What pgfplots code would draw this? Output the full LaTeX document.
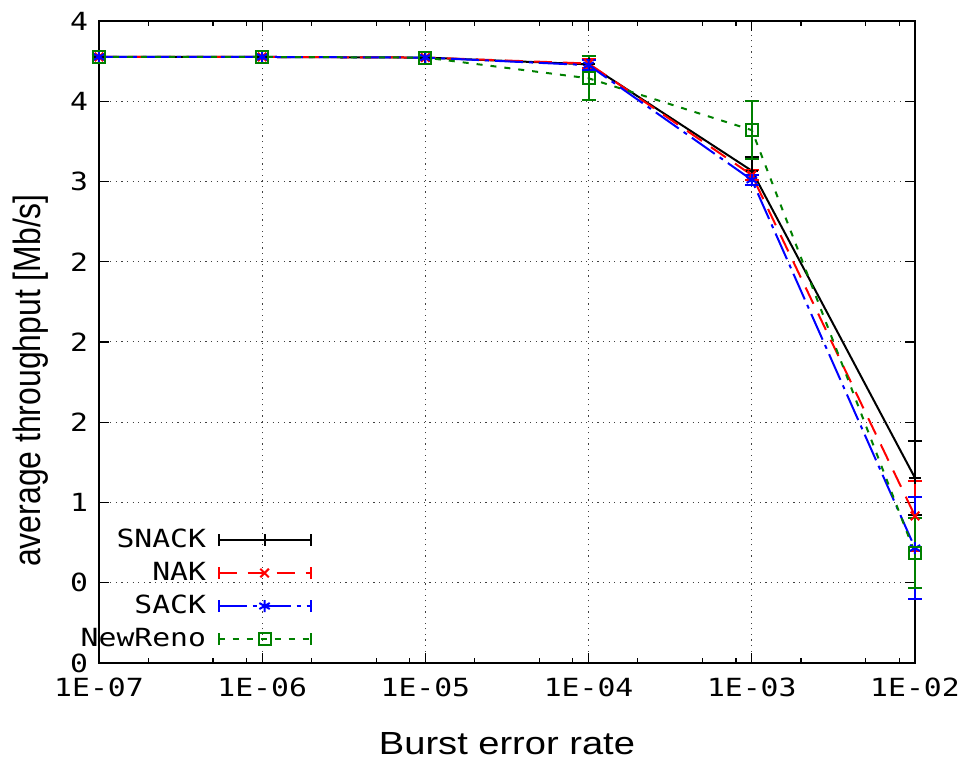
\documentclass[border=0pt]{standalone}
\usepackage{fontspec}
\setmainfont{Liberation Sans}
\newfontfamily\tickfont[FakeStretch=1.19]{DejaVu Sans Mono}
\newfontfamily\labfont[FakeStretch=1.19]{Liberation Sans}
\newfontfamily\ylabfont[FakeStretch=0.84]{Liberation Sans}
\usepackage{pgfplots}
\pgfplotsset{compat=1.18}
\definecolor{gpgreen}{RGB}{0,128,0}
\begin{document}
\begin{tikzpicture}
\begin{axis}[name=ax,
  scale only axis, width=408pt, height=321pt,
  xmode=log, xmin=1e-7, xmax=1e-2, ymin=0, ymax=4,
  xtick={1e-7,1e-6,1e-5,1e-4,1e-3,1e-2},
  xticklabels={1E-07,1E-06,1E-05,1E-04,1E-03,1E-02},
  minor xtick={2e-7,5e-7,8e-7,2e-6,5e-6,8e-6,2e-5,5e-5,8e-5,2e-4,5e-4,8e-4,2e-3,5e-3,8e-3},
  ytick={0,0.5,1,1.5,2,2.5,3,3.5,4},
  yticklabels={0,0,1,2,2,2,3,4,4},
  tick align=inside, major tick length=5pt, minor tick length=2.5pt,
  every tick/.style={black, line width=0.6pt},
  axis line style={line width=1pt},
  grid=major, grid style={black!75, line width=0.5pt, dash pattern=on 0.6pt off 2.2pt},
  tick label style={font=\tickfont\fontsize{12.5}{14}\selectfont},
  xticklabel style={yshift=-4pt},
  yticklabel style={xshift=-2pt},
  xlabel={Burst error rate},
  xlabel style={font=\labfont\fontsize{16}{19}\selectfont, at={(axis description cs:0.5,0)}, anchor=base, yshift=-46pt},
  ylabel={average throughput [Mb/s]},
  ylabel style={font=\ylabfont\fontsize{19}{22}\selectfont, at={(axis description cs:0,0.44)}, anchor=center, rotate=0, yshift=34pt},
  clip=false,
  legend plot pos=right,
  legend cell align=right,
  legend style={draw=none, fill=none, inner sep=0pt,
    font=\tickfont\fontsize{12.5}{14}\selectfont,
    at={(axis description cs:0.261,0.011)}, anchor=south east,
    nodes={text height=9pt, text depth=2pt, inner sep=2.75pt},
    column sep=3pt},
  legend image code/.code={
    \draw[mark repeat=2,mark phase=2,#1] plot coordinates {(0pt,0pt) (23pt,0pt) (46pt,0pt)};
    \draw[#1,solid] (0pt,-3pt) -- (0pt,3pt) (46pt,-3pt) -- (46pt,3pt);
  },
  error bars/y dir=both, error bars/y explicit,
  error bars/error bar style={solid, line width=1pt},
  error bars/error mark options={rotate=90, mark size=3.5pt, line width=1pt, solid},
]
\addplot[black, line width=1pt, mark=+, mark size=3pt, mark options={solid}]
  coordinates {(1e-7,3.776)+-(0,0.01) (1e-6,3.776)+-(0,0.01) (1e-5,3.772)+-(0,0.01) (1e-4,3.73)+-(0,0.03) (1e-3,3.067)+-(0,0.087) (1e-2,1.153)+-(0,0.23)};
\addlegendentry{SNACK}
\addplot[red, line width=1pt, dash pattern=on 9pt off 5.5pt, mark=x, mark size=3pt, mark options={solid}]
  coordinates {(1e-7,3.776)+-(0,0.01) (1e-6,3.776)+-(0,0.01) (1e-5,3.772)+-(0,0.01) (1e-4,3.735)+-(0,0.03) (1e-3,3.04)+-(0,0.03) (1e-2,0.916)+-(0,0.22)};
\addlegendentry{NAK}
\addplot[blue, line width=1pt, dash pattern=on 14pt off 3pt on 2pt off 3pt, mark=asterisk, mark size=3pt, mark options={solid}]
  coordinates {(1e-7,3.776)+-(0,0.01) (1e-6,3.776)+-(0,0.01) (1e-5,3.772)+-(0,0.01) (1e-4,3.725)+-(0,0.03) (1e-3,3.01)+-(0,0.03) (1e-2,0.716)+-(0,0.32)};
\addlegendentry{SACK}
\addplot[gpgreen, line width=1pt, dash pattern=on 3pt off 4pt, mark=square, mark size=3pt, mark options={solid}]
  coordinates {(1e-7,3.776)+-(0,0.01) (1e-6,3.776)+-(0,0.01) (1e-5,3.772)+-(0,0.01) (1e-4,3.643)+-(0,0.137) (1e-3,3.32)+-(0,0.18) (1e-2,0.685)+-(0,0.22)};
\addlegendentry{NewReno}
\end{axis}
\pgfresetboundingbox
\path ([shift={(-49.5pt,-50pt)}]ax.south west) rectangle ([shift={(25pt,10.5pt)}]ax.north east);
\end{tikzpicture}
\end{document}
